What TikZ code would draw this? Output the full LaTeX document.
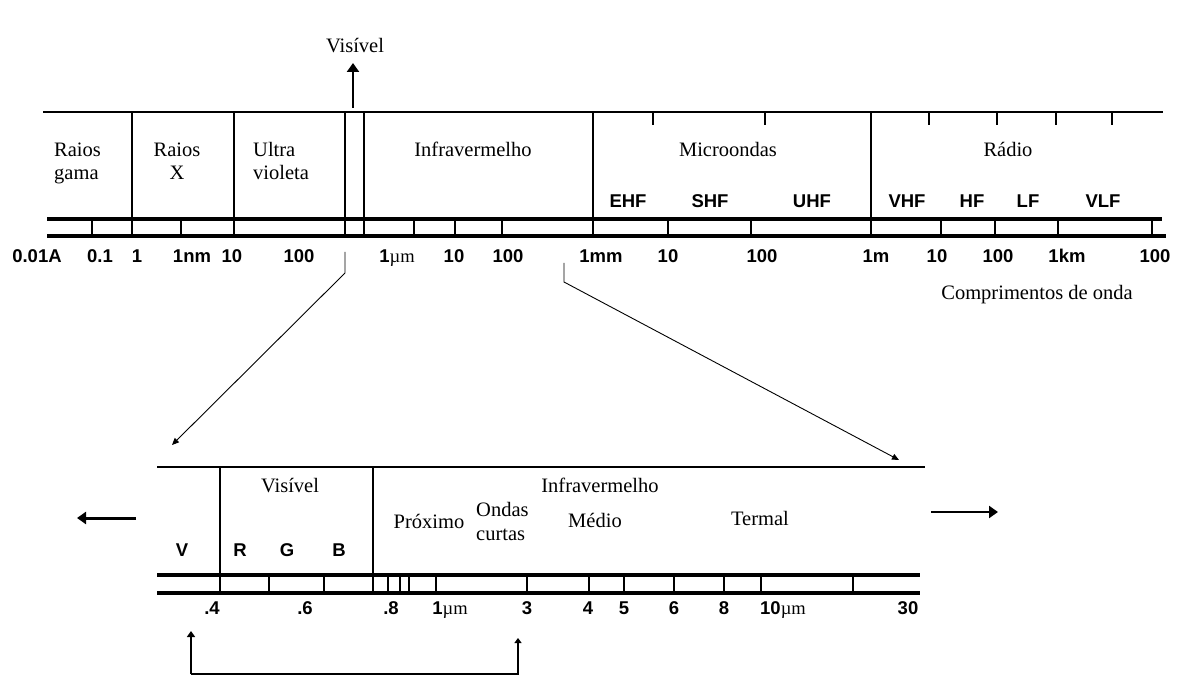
\documentclass[tikz,border=0pt]{standalone}
\usepackage{fontspec}
\setmainfont{Liberation Serif}
\setsansfont{Liberation Sans}
\usetikzlibrary{arrows.meta}
\tikzset{
  txt/.style={inner sep=0pt, anchor=base, font=\fontsize{20.5}{23.5}\selectfont},
  txtl/.style={txt, anchor=base west, align=left},
  num/.style={inner sep=0pt, anchor=base, font=\sffamily\bfseries\fontsize{18.5}{22}\selectfont},
  thin line/.style={line width=1.1pt},
  rail/.style={line width=4pt},
  tick/.style={line width=1.1pt},
  pointer/.style={line width=0.9pt, -{Triangle[length=7pt,width=6pt]}},
  bigarrow/.style={-{Triangle[length=9pt,width=12pt]}},
}
\newcommand{\um}{{\rmfamily\mdseries µm}}
\begin{document}
\begin{tikzpicture}[x=1pt,y=-1pt]
\useasboundingbox (0,0) rectangle (1184,695);

% ---------- upper scale: full spectrum ----------
\draw[thin line] (43,112) -- (1163,112);
\foreach \x in {132,234,345,364,593,871}
  \draw[tick] (\x,112) -- (\x,219);
\foreach \x in {653,765,929,997,1056,1112}
  \draw[tick] (\x,112) -- (\x,125);
\draw[rail] (47,219) -- (1162,219);
\draw[rail] (47,236) -- (1166,236);
\foreach \x in {92,132,181,234,345,364,414,455,502,593,668,751,871,941,995,1058,1152}
  \draw[tick] (\x,219) -- (\x,236);

% band names (two-line nodes sit on the baseline of their last line)
\node[txtl] (gama) at (54,180) {Raios\\gama};
\node[txt, align=center] (xray) at (177,180) {Raios\\X};
\node[txtl] (uv) at (253,180) {Ultra\\violeta};
\node[txt] (ir) at (473,157) {Infravermelho};
\node[txt] (micro) at (728,157) {Microondas};
\node[txt] (radio) at (1008,157) {Rádio};

% radio bands
\foreach \x/\t [count=\i] in {628/EHF,710/SHF,812/UHF,907/VHF,972/HF,1028/LF,1103/VLF}
  \node[num] (band\i) at (\x,208) {\t};

% wavelength values
\foreach \x/\t [count=\i] in {37/0.01A,100/0.1,137/1,192/1nm,232/10,299/100,397/1\um,454/10,508/100,601/1mm,668/10,762/100,876/1m,937/10,998/100,1067/1km,1155/100}
  \node[num] (wl\i) at (\x,262) {\t};
\node[txt] (compr) at (1037,299) {Comprimentos de onda};

% visible window marker
\node[txt] (vistop) at (355,53) {Visível};
\coordinate (visfoot) at (353,108);
\coordinate (vistip) at (353,63);
\draw[line width=2.2pt, bigarrow] (visfoot) -- (vistip);

% ---------- zoom pointers ----------
\coordinate (zl0) at (345,252);
\coordinate (zl1) at (345,273);
\coordinate (zl2) at (172,445);
\draw[pointer] (zl0) -- (zl1) -- (zl2);
\coordinate (zr0) at (564,263);
\coordinate (zr1) at (564,282);
\coordinate (zr2) at (899,460);
\draw[pointer] (zr0) -- (zr1) -- (zr2);

% ---------- lower scale: visible and infrared ----------
\draw[thin line] (157,467) -- (925,467);
\foreach \x in {220,373}
  \draw[tick] (\x,467) -- (\x,575);
\draw[rail] (157,575) -- (920,575);
\draw[rail] (157,593) -- (920,593);
\foreach \x in {220,269,324,373,388,400,409,436,527,589,624,674,761,853}
  \draw[tick] (\x,575) -- (\x,593);
\draw[line width=2.2pt] (724,575) -- (724,593);

\node[txt] (vis) at (290,492) {Visível};
\node[txt] (irb) at (600,492) {Infravermelho};
\node[txt] (prox) at (429,528) {Próximo};
\node[txtl] (curtas) at (476,540) {Ondas\\curtas};
\node[txt] (medio) at (595,527) {Médio};
\node[txt] (termal) at (760,525) {Termal};

\foreach \x/\t in {182/V,240/R,287/G,339/B}
  \node[num] (c\t) at (\x,556) {\t};

\foreach \x/\t [count=\i] in {212/.4,305/.6,391/.8,450/1\um,527/3,588/4,624/5,674/6,724/8,783/10\um,908/30}
  \node[num] (lw\i) at (\x,614) {\t};

% direction arrows
\coordinate (la0) at (136,518);
\coordinate (la1) at (77,518);
\draw[line width=3pt, bigarrow] (la0) -- (la1);
\coordinate (ra0) at (931,512);
\coordinate (ra1) at (998,512);
\draw[line width=2.2pt, bigarrow] (ra0) -- (ra1);

% bracket under the reflective range
\coordinate (bl0) at (191,674);
\coordinate (bl1) at (191,631);
\coordinate (br0) at (518,674);
\coordinate (br1) at (518,638);
\draw[line width=2pt, -{Triangle[length=6pt,width=8pt]}] (bl0) -- (bl1);
\draw[line width=1.2pt, -{Triangle[length=5pt,width=7pt]}] (bl0) -- (br0) -- (br1);
\end{tikzpicture}
\end{document}
